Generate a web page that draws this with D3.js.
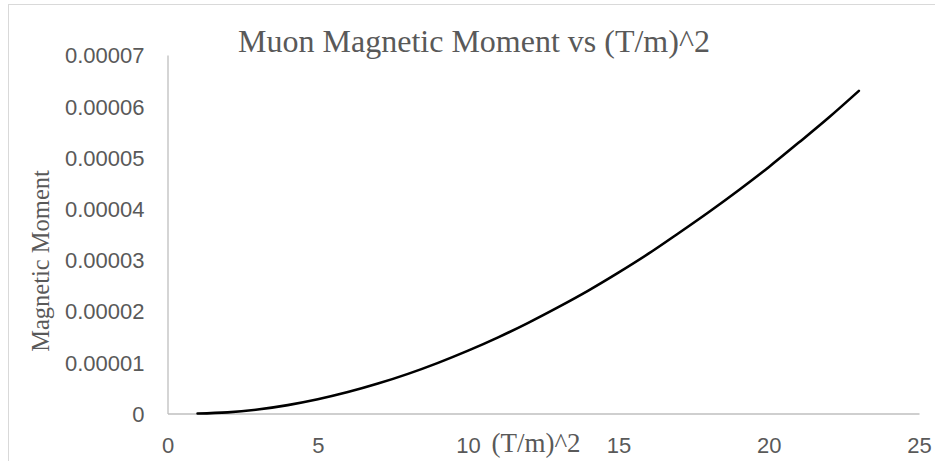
<!DOCTYPE html>
<html>
<head>
<meta charset="utf-8">
<script src="https://cdn.jsdelivr.net/npm/d3@7"></script>
<style>
html,body{margin:0;padding:0;background:#fff;}
svg{display:block;}
</style>
</head>
<body>
<svg id="chart" width="935" height="461"></svg>
<script>
// ---- data ----
const xValues = [1,2,3,4,5,6,7,8,9,10,11,12,13,14,15,16,17,18,19,20,21,22,23];
const momentValues = [0,2.2e-7,7.8e-7,1.64e-6,2.78e-6,4.18e-6,5.84e-6,7.74e-6,9.89e-6,1.227e-5,1.487e-5,1.771e-5,2.077e-5,2.40e-5,2.75e-5,3.12e-5,3.52e-5,3.93e-5,4.36e-5,4.81e-5,5.29e-5,5.78e-5,6.30e-5];
const xTicks = [0,5,10,15,20,25];
const yTicks = [0,0.00001,0.00002,0.00003,0.00004,0.00005,0.00006,0.00007];
const yTickLabels = ["0","0.00001","0.00002","0.00003","0.00004","0.00005","0.00006","0.00007"];
const titleText = "Muon Magnetic Moment vs (T/m)^2";
const xTitle = "(T/m)^2";
const yTitle = "Magnetic Moment";

const svg = d3.select("#chart");

// chart frame
svg.append("rect")
  .attr("x", 8.5).attr("y", 4.5)
  .attr("width", 940).attr("height", 470)
  .attr("fill", "none").attr("stroke", "#d9d9d9").attr("stroke-width", 1);

const x = d3.scaleLinear().domain([0, 25]).range([167.5, 919]);
const y = d3.scaleLinear().domain([0, 0.00007]).range([413.5, 55]);

// axes
const xAxis = svg.append("g").attr("transform", `translate(0,${y(0)})`)
  .call(d3.axisBottom(x).tickValues(xTicks).tickSize(0).tickPadding(0).tickFormat(d3.format("d")));
xAxis.select(".domain").attr("stroke", "#bfbfbf").attr("stroke-width", 1.3);
xAxis.selectAll(".tick text")
  .attr("y", 39).attr("dy", 0)
  .attr("font-family", "'Liberation Sans', Arial, sans-serif")
  .attr("font-size", 22).attr("fill", "#595959");

const yAxis = svg.append("g").attr("transform", `translate(${x(0)},0)`)
  .call(d3.axisLeft(y).tickValues(yTicks).tickSize(0).tickPadding(0).tickFormat((d,i) => yTickLabels[i]));
yAxis.select(".domain").attr("stroke", "#bfbfbf").attr("stroke-width", 1.3);
yAxis.selectAll(".tick text")
  .attr("x", -23).attr("dy", "0.36em")
  .attr("font-family", "'Liberation Sans', Arial, sans-serif")
  .attr("font-size", 22).attr("fill", "#595959");

// curve
const line = d3.line()
  .x((d, i) => x(xValues[i]))
  .y(d => y(d))
  .curve(d3.curveCatmullRom);
svg.append("path")
  .datum(momentValues)
  .attr("d", line)
  .attr("fill", "none")
  .attr("stroke", "#000")
  .attr("stroke-width", 2.6)
  .attr("stroke-linecap", "round");

// titles
svg.append("text")
  .attr("x", 474).attr("y", 52)
  .attr("text-anchor", "middle")
  .attr("font-family", "'Liberation Serif', 'Times New Roman', serif")
  .attr("font-size", 32).attr("fill", "#595959")
  .text(titleText);

svg.append("text")
  .attr("x", 536).attr("y", 452)
  .attr("text-anchor", "middle")
  .attr("font-family", "'Liberation Serif', 'Times New Roman', serif")
  .attr("font-size", 27).attr("fill", "#595959")
  .text(xTitle);

svg.append("text")
  .attr("transform", "translate(49,261) rotate(-90)")
  .attr("text-anchor", "middle")
  .attr("font-family", "'Liberation Serif', 'Times New Roman', serif")
  .attr("font-size", 24.5).attr("fill", "#595959")
  .text(yTitle);
</script>
</body>
</html>
